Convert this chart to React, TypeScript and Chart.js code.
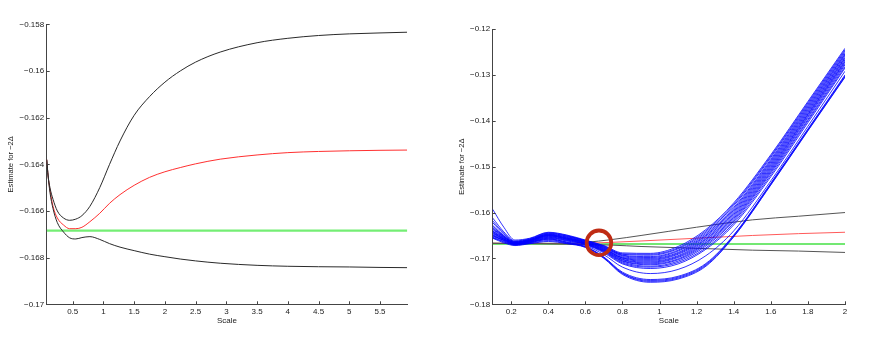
import React, { useEffect, useRef } from "react";
import { Chart, registerables } from "chart.js";

Chart.register(...registerables);
Chart.defaults.font.family = '"Liberation Sans", Arial, Helvetica, sans-serif';

// ---------- LEFT PANEL DATA ----------
const leftX = [0.077, 0.1, 0.13, 0.18, 0.25, 0.35, 0.45, 0.55, 0.65, 0.78, 0.94, 1.1, 1.27, 1.5, 1.75, 2.0, 2.25, 2.5, 2.9, 3.5, 4.0, 4.5, 5.0, 5.5, 5.94];
const leftUpper = [-0.1638, -0.1645, -0.165, -0.1655, -0.166, -0.1663, -0.1664, -0.16635, -0.1662, -0.1658, -0.165, -0.164, -0.163, -0.1619, -0.1611, -0.16048, -0.16, -0.15962, -0.15919, -0.15879, -0.1586, -0.15848, -0.15841, -0.15837, -0.15834];
const leftRed = [-0.1638, -0.1645, -0.1651, -0.1658, -0.1663, -0.1666, -0.16676, -0.16676, -0.1667, -0.16646, -0.1661, -0.16567, -0.1653, -0.1649, -0.16456, -0.16432, -0.16414, -0.16398, -0.16378, -0.1636, -0.1635, -0.16345, -0.16342, -0.1634, -0.16339];
const leftLower = [-0.1638, -0.1645, -0.1652, -0.1659, -0.1665, -0.1669, -0.16715, -0.1672, -0.16714, -0.1671, -0.16722, -0.1674, -0.16755, -0.1677, -0.16785, -0.16796, -0.16806, -0.16814, -0.16824, -0.16833, -0.16837, -0.16839, -0.1684, -0.16842, -0.16843];
const leftGreenX = [0.077, 5.944];
const leftGreen = [-0.16684, -0.16684];
const leftXTicks = [0.5, 1, 1.5, 2, 2.5, 3, 3.5, 4, 4.5, 5, 5.5];
const leftYTicks = [-0.17, -0.168, -0.166, -0.164, -0.162, -0.16, -0.158];

// ---------- RIGHT PANEL DATA ----------
const rightLineX = [0.1, 0.3, 0.5, 0.6, 0.74, 0.9, 1.2, 1.5, 1.75, 2.0];
const rightUpper = [-0.1667, -0.1667, -0.1667, -0.1665, -0.1659, -0.165, -0.1632, -0.1616, -0.1608, -0.16];
const rightRed = [-0.1667, -0.1667, -0.1668, -0.1667, -0.1665, -0.1662, -0.1656, -0.165, -0.1646, -0.1643];
const rightLower = [-0.1667, -0.1668, -0.1669, -0.167, -0.1671, -0.1674, -0.1678, -0.1682, -0.1684, -0.1687];
const rightGreenX = [0.1, 2.0];
const rightGreen = [-0.16684, -0.16684];

const blueX = [0.1, 0.16, 0.22, 0.3, 0.4, 0.5, 0.6, 0.7, 0.8, 0.95, 1.1, 1.25, 1.4, 1.6, 1.8, 2.0];
const blueCurves = [
  [-0.1593, -0.1632, -0.166, -0.1656, -0.1643, -0.1649, -0.166, -0.1672, -0.1688, -0.1689, -0.1674, -0.1637, -0.1579, -0.1474, -0.1358, -0.1242],
  [-0.1628, -0.165, -0.1664, -0.1659, -0.1646, -0.1651, -0.1661, -0.1673, -0.169, -0.1691, -0.1677, -0.164, -0.1582, -0.1477, -0.1361, -0.1245],
  [-0.164, -0.1655, -0.1665, -0.166, -0.1648, -0.1653, -0.1661, -0.1674, -0.1691, -0.1693, -0.1679, -0.1643, -0.1585, -0.148, -0.1364, -0.1248],
  [-0.1612, -0.1642, -0.1662, -0.1657, -0.1644, -0.165, -0.1662, -0.1675, -0.1693, -0.1696, -0.1682, -0.1646, -0.1589, -0.1484, -0.1367, -0.1251],
  [-0.1633, -0.1652, -0.1666, -0.1661, -0.1649, -0.1655, -0.1663, -0.1676, -0.1694, -0.1698, -0.1684, -0.1649, -0.1592, -0.1487, -0.137, -0.1254],
  [-0.1646, -0.1658, -0.1667, -0.1662, -0.165, -0.1656, -0.1663, -0.1677, -0.1696, -0.17, -0.1687, -0.1651, -0.1595, -0.149, -0.1373, -0.1256],
  [-0.1622, -0.1647, -0.1663, -0.1658, -0.1645, -0.1652, -0.1664, -0.1678, -0.1698, -0.1702, -0.1689, -0.1654, -0.1598, -0.1493, -0.1376, -0.1259],
  [-0.1637, -0.1654, -0.1666, -0.1661, -0.1651, -0.1657, -0.1665, -0.1679, -0.1699, -0.1704, -0.1691, -0.1657, -0.1601, -0.1496, -0.1379, -0.1262],
  [-0.165, -0.166, -0.1668, -0.1663, -0.1652, -0.1658, -0.1665, -0.168, -0.17, -0.1706, -0.1694, -0.1659, -0.1604, -0.1499, -0.1382, -0.1264],
  [-0.163, -0.1651, -0.1665, -0.166, -0.1647, -0.1654, -0.1666, -0.1681, -0.1702, -0.1708, -0.1696, -0.1662, -0.1607, -0.1502, -0.1385, -0.1267],
  [-0.1643, -0.1657, -0.1667, -0.1662, -0.1653, -0.1659, -0.1667, -0.1682, -0.1703, -0.171, -0.1698, -0.1665, -0.161, -0.1505, -0.1387, -0.127],
  [-0.1618, -0.1645, -0.1664, -0.1659, -0.1648, -0.1656, -0.1667, -0.1683, -0.1705, -0.1712, -0.1701, -0.1667, -0.1613, -0.1508, -0.139, -0.1272],
  [-0.1648, -0.1659, -0.1668, -0.1664, -0.1655, -0.166, -0.1668, -0.1684, -0.1706, -0.1714, -0.1703, -0.167, -0.1616, -0.1511, -0.1393, -0.1275],
  [-0.1635, -0.1653, -0.1666, -0.1661, -0.165, -0.1658, -0.1669, -0.1685, -0.1708, -0.1717, -0.1706, -0.1673, -0.1619, -0.1514, -0.1397, -0.1278],
  [-0.1652, -0.1661, -0.1669, -0.1665, -0.1656, -0.1662, -0.1669, -0.1686, -0.171, -0.1719, -0.1709, -0.1677, -0.1623, -0.1518, -0.14, -0.1282],
  [-0.1641, -0.1656, -0.1667, -0.1663, -0.1654, -0.1661, -0.167, -0.1688, -0.1712, -0.1722, -0.1712, -0.168, -0.1627, -0.1522, -0.1404, -0.1285],
  [-0.1654, -0.1663, -0.167, -0.1666, -0.1658, -0.1664, -0.1672, -0.1692, -0.1719, -0.1733, -0.1724, -0.1694, -0.164, -0.1531, -0.1412, -0.1292],
  [-0.1644, -0.1658, -0.1668, -0.1664, -0.1657, -0.1665, -0.1674, -0.1697, -0.173, -0.1746, -0.1739, -0.1711, -0.1649, -0.1536, -0.1418, -0.13],
  [-0.165, -0.1661, -0.167, -0.1665, -0.1659, -0.1666, -0.1675, -0.1698, -0.1732, -0.1748, -0.1741, -0.1713, -0.165, -0.1537, -0.1419, -0.1302],
  [-0.1655, -0.1664, -0.1671, -0.1667, -0.1661, -0.1667, -0.1675, -0.1699, -0.1733, -0.175, -0.1743, -0.1715, -0.1652, -0.1539, -0.1421, -0.1304],
  [-0.1656, -0.1666, -0.1672, -0.1668, -0.1663, -0.1668, -0.1676, -0.17, -0.1735, -0.1752, -0.1745, -0.1717, -0.1653, -0.154, -0.1422, -0.1305],
];
const markerX = [0.673];
const markerY = [-0.1666];
const rightXTicks = [0.2, 0.4, 0.6, 0.8, 1, 1.2, 1.4, 1.6, 1.8, 2];
const rightYTicks = [-0.18, -0.17, -0.16, -0.15, -0.14, -0.13, -0.12];

const xTitle = "Scale";
const yTitle = "Estimate for \u22122\u0394";

// ---------- helpers ----------
const toPts = (xs: number[], ys: number[]) => xs.map((x, i) => ({ x, y: ys[i] }));
const fmtX = (v: number) => String(Math.round(v * 1e6) / 1e6);
const fmtY = (v: number) => String(Math.round(v * 1e6) / 1e6).replace("-", "\u2212");

const inwardTicks = {
  id: "inwardTicks",
  afterDatasetsDraw(chart: any) {
    const { ctx, chartArea } = chart;
    const xs = chart.scales.x;
    const ys = chart.scales.y;
    ctx.save();
    ctx.strokeStyle = "#444";
    ctx.lineWidth = 1;
    ctx.beginPath();
    xs.ticks.forEach((t: any) => {
      const px = Math.round(xs.getPixelForValue(t.value)) + 0.5;
      ctx.moveTo(px, chartArea.bottom);
      ctx.lineTo(px, chartArea.bottom - 3);
    });
    ys.ticks.forEach((t: any) => {
      const py = Math.round(ys.getPixelForValue(t.value)) + 0.5;
      ctx.moveTo(chartArea.left, py);
      ctx.lineTo(chartArea.left + 3, py);
    });
    ctx.stroke();
    ctx.restore();
  },
};

function makeScales(opts: {
  xmin: number; xmax: number; ymin: number; ymax: number;
  xticks: number[]; yticks: number[]; yWidth: number; yTitlePad: number;
}) {
  const tickFont = { size: 8 };
  return {
    x: {
      type: "linear",
      min: opts.xmin,
      max: opts.xmax,
      afterBuildTicks: (s: any) => { s.ticks = opts.xticks.map((v) => ({ value: v })); },
      afterFit: (s: any) => { s.height = 30; },
      ticks: { callback: (v: any) => fmtX(Number(v)), color: "#222", font: tickFont, padding: 3, maxRotation: 0, autoSkip: false },
      grid: { display: true, drawOnChartArea: false, drawTicks: false },
      border: { display: true, color: "#444", width: 1 },
      title: { display: true, text: xTitle, color: "#222", font: { size: 8 }, padding: { top: 0, bottom: 8.5 } },
    },
    y: {
      type: "linear",
      min: opts.ymin,
      max: opts.ymax,
      afterBuildTicks: (s: any) => { s.ticks = opts.yticks.map((v) => ({ value: v })); },
      afterFit: (s: any) => { s.width = opts.yWidth; },
      ticks: { callback: (v: any) => fmtY(Number(v)), color: "#222", font: tickFont, padding: 2.5, autoSkip: false },
      grid: { display: true, drawOnChartArea: false, drawTicks: false },
      border: { display: true, color: "#444", width: 1 },
      title: { display: true, text: yTitle, color: "#222", font: { size: 7.6 }, padding: { top: opts.yTitlePad, bottom: 0 } },
    },
  };
}

function lineDs(pts: any[], color: string, width: number) {
  return {
    data: pts,
    borderColor: color,
    borderWidth: width,
    pointRadius: 0,
    fill: false,
    cubicInterpolationMode: "monotone",
  };
}

function LeftChart() {
  const ref = useRef<HTMLCanvasElement>(null);
  useEffect(() => {
    if (!ref.current) return;
    const chart = new Chart(ref.current, {
      type: "line",
      data: {
        datasets: [
          lineDs(toPts(leftX, leftUpper), "#2a2a2a", 1),
          lineDs(toPts(leftX, leftLower), "#2a2a2a", 1),
          lineDs(toPts(leftX, leftRed), "#ff3030", 1),
          lineDs(toPts(leftGreenX, leftGreen), "#74ee74", 2.2),
        ] as any,
      },
      options: {
        animation: false,
        responsive: false,
        events: [],
        layout: { padding: { left: 0, top: 24.3, right: 27.7, bottom: 5.7 } },
        plugins: { legend: { display: false }, tooltip: { enabled: false } },
        scales: makeScales({
          xmin: 0.077, xmax: 5.944, ymin: -0.17, ymax: -0.158,
          xticks: leftXTicks, yticks: leftYTicks, yWidth: 46.7, yTitlePad: 6.2,
        }) as any,
      },
      plugins: [inwardTicks],
    });
    return () => chart.destroy();
  }, []);
  return <canvas ref={ref} width={435} height={340} style={{ position: "absolute", left: 0, top: 0 }} />;
}

function RightChart() {
  const ref = useRef<HTMLCanvasElement>(null);
  useEffect(() => {
    if (!ref.current) return;
    const marker = {
      type: "scatter",
      data: toPts(markerX, markerY),
      pointRadius: 12.3,
      pointBorderWidth: 3.8,
      pointBorderColor: "#bf2c14",
      pointBackgroundColor: "rgba(0,0,0,0)",
      showLine: false,
      clip: false,
    };
    const blues = blueCurves.map((c) => lineDs(toPts(blueX, c), "rgba(0,0,255,0.9)", 0.9));
    const chart = new Chart(ref.current, {
      type: "line",
      data: {
        datasets: [
          marker,
          ...blues,
          lineDs(toPts(rightLineX, rightUpper), "#555", 1),
          lineDs(toPts(rightLineX, rightLower), "#555", 1),
          lineDs(toPts(rightLineX, rightRed), "#ff5a5a", 1),
          lineDs(toPts(rightGreenX, rightGreen), "#44e044", 1.5),
        ] as any,
      },
      options: {
        animation: false,
        responsive: false,
        events: [],
        layout: { padding: { left: 0, top: 29, right: 26, bottom: 5.7 } },
        plugins: { legend: { display: false }, tooltip: { enabled: false } },
        scales: makeScales({
          xmin: 0.1, xmax: 2, ymin: -0.18, ymax: -0.12,
          xticks: rightXTicks, yticks: rightYTicks, yWidth: 56.7, yTitlePad: 20.9,
        }) as any,
      },
      plugins: [inwardTicks],
    });
    return () => chart.destroy();
  }, []);
  return <canvas ref={ref} width={435} height={340} style={{ position: "absolute", left: 436, top: 0 }} />;
}

export default function App() {
  return (
    <div style={{ position: "fixed", left: 0, top: 0, width: 871, height: 340, background: "#fff" }}>
      <LeftChart />
      <RightChart />
    </div>
  );
}
